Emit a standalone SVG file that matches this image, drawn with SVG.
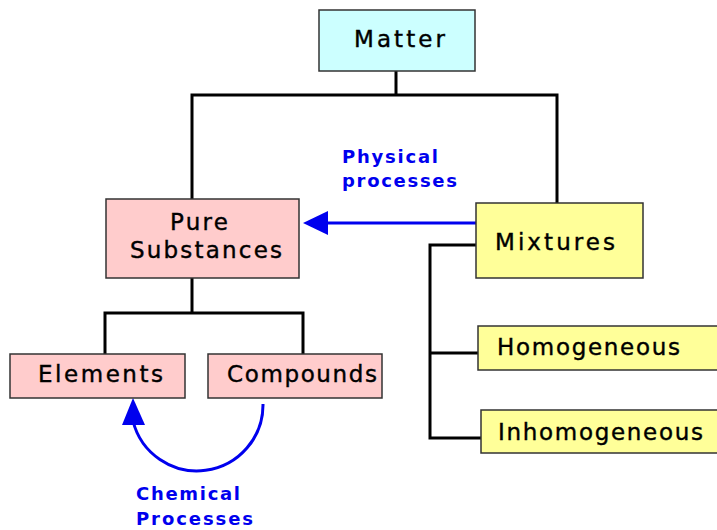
<svg xmlns="http://www.w3.org/2000/svg" width="717" height="530" viewBox="0 0 717 530">
<style>
.box{stroke:#333;stroke-width:1.5}
.cyan{fill:#CCFFFF}
.pink{fill:#FFCCCC}
.yel{fill:#FFFF99}
.lbl{font-family:"DejaVu Sans",sans-serif;font-size:23px;fill:#000;stroke:#000;stroke-width:0.4}
.blue{font-family:"DejaVu Sans",sans-serif;font-size:18px;font-weight:bold;fill:#0000EE}
.ln{fill:none;stroke:#000;stroke-width:3}
.bl{fill:none;stroke:#0000EE;stroke-width:3}
</style>
<rect width="717" height="530" fill="#fff"/>
<g id="connectors">
<polyline class="ln" points="396,71 396,95"/>
<polyline class="ln" points="192,199 192,95 557,95 557,203"/>
<polyline class="ln" points="192,278 192,313"/>
<polyline class="ln" points="105,354 105,313 303,313 303,354"/>
<polyline class="ln" points="476,245 430,245 430,438 481,438"/>
<polyline class="ln" points="430,353 478,353"/>
<line class="bl" x1="476" y1="223" x2="325" y2="223"/>
<polygon points="303,223 328,211 328,235" fill="#0000EE"/>
<path class="bl" d="M263,404 A66,66 0 0 1 133,421"/>
<polygon points="133,398 122,425 145,425" fill="#0000EE"/>
</g>
<g id="matter">
<rect class="box cyan" x="319" y="10" width="156" height="61"/>
<text class="lbl" x="354" y="47" textLength="91" lengthAdjust="spacing">Matter</text>
</g>
<g id="pure-substances">
<rect class="box pink" x="106" y="199" width="193" height="79"/>
<text class="lbl" x="170" y="230" textLength="58" lengthAdjust="spacing">Pure</text>
<text class="lbl" x="130" y="258" textLength="152" lengthAdjust="spacing">Substances</text>
</g>
<g id="mixtures">
<rect class="box yel" x="476" y="203" width="167" height="75"/>
<text class="lbl" x="495" y="250" textLength="120" lengthAdjust="spacing">Mixtures</text>
</g>
<g id="homogeneous">
<rect class="box yel" x="478" y="326" width="245" height="44"/>
<text class="lbl" x="497" y="355" textLength="183" lengthAdjust="spacing">Homogeneous</text>
</g>
<g id="inhomogeneous">
<rect class="box yel" x="481" y="410" width="245" height="43"/>
<text class="lbl" x="498" y="440" textLength="205" lengthAdjust="spacing">Inhomogeneous</text>
</g>
<g id="elements">
<rect class="box pink" x="10" y="354" width="175" height="44"/>
<text class="lbl" x="38" y="382" textLength="125" lengthAdjust="spacing">Elements</text>
</g>
<g id="compounds">
<rect class="box pink" x="208" y="354" width="174" height="44"/>
<text class="lbl" x="227" y="382" textLength="150" lengthAdjust="spacing">Compounds</text>
</g>
<g id="physical-label">
<text class="blue" x="342" y="163" textLength="96" lengthAdjust="spacing">Physical</text>
<text class="blue" x="342" y="187" textLength="115" lengthAdjust="spacing">processes</text>
</g>
<g id="chemical-label">
<text class="blue" x="136" y="500" textLength="104" lengthAdjust="spacing">Chemical</text>
<text class="blue" x="136" y="525" textLength="117" lengthAdjust="spacing">Processes</text>
</g>
</svg>
